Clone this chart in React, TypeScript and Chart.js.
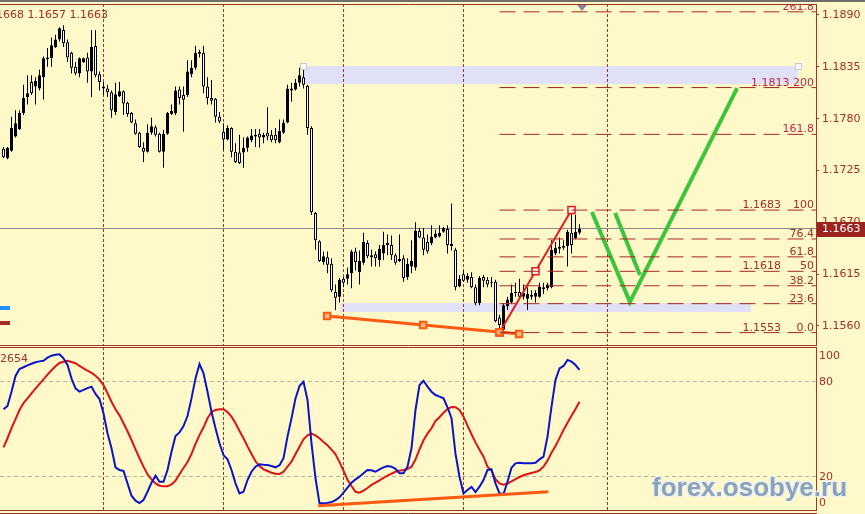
import React, { useEffect, useRef } from 'react';
import { Chart, registerables } from 'chart.js';

Chart.register(...registerables);

// ---------- DATA ----------
const OPEN = [
  1.1748, 1.1738, 1.1746, 1.1761, 1.1769, 1.1786, 1.1803, 1.1819, 1.1814, 1.1812,
  1.1824, 1.1843, 1.1844, 1.1856, 1.1864, 1.1874, 1.1861, 1.185, 1.1835, 1.1828,
  1.184, 1.1845, 1.183, 1.1857, 1.1827, 1.1812, 1.1812, 1.1808, 1.1787, 1.1804,
  1.1809, 1.1797, 1.1786, 1.1775, 1.1765, 1.1749, 1.1745, 1.1765, 1.1771, 1.1764,
  1.1745, 1.1764, 1.1785, 1.1786, 1.1811, 1.1805, 1.1805, 1.1827, 1.1834, 1.1851,
  1.185, 1.1814, 1.1802, 1.1801, 1.1782, 1.1766, 1.1758, 1.177, 1.1745, 1.1744,
  1.1744, 1.1749, 1.1757, 1.1761, 1.1764, 1.176, 1.1765, 1.1763, 1.1763, 1.1755,
  1.1765, 1.1776, 1.181, 1.1811, 1.1818, 1.1824, 1.1815, 1.177, 1.168, 1.165,
  1.1628, 1.1633, 1.1626, 1.1596, 1.1591, 1.161, 1.161, 1.1616, 1.1639, 1.1617,
  1.1627, 1.1648, 1.1633, 1.1636, 1.163, 1.1637, 1.1646, 1.1646, 1.1635, 1.1629,
  1.1632, 1.1612, 1.1623, 1.1622, 1.1661, 1.1654, 1.1649, 1.1648, 1.1654, 1.1655,
  1.166, 1.1663, 1.1647, 1.1641, 1.1602, 1.1615, 1.1609, 1.1612, 1.1601, 1.1584,
  1.1612, 1.1609, 1.1606, 1.1607, 1.1569, 1.1556, 1.1581, 1.1585, 1.1595, 1.1596,
  1.1591, 1.1589, 1.1591, 1.1591, 1.1591, 1.1599, 1.16, 1.1601, 1.1637, 1.1642,
  1.1643, 1.1645, 1.1659, 1.1653, 1.1659,
];
const HIGH = [
  1.175, 1.175, 1.1782, 1.1789, 1.1789, 1.1816, 1.1826, 1.1826, 1.1824, 1.1832,
  1.1846, 1.1855, 1.1866, 1.1869, 1.1877, 1.1879, 1.1864, 1.1851, 1.184, 1.1845,
  1.1845, 1.185, 1.1874, 1.1874, 1.183, 1.1819, 1.1816, 1.181, 1.1818, 1.1819,
  1.181, 1.1798, 1.1787, 1.1779, 1.1766, 1.1755, 1.1774, 1.1781, 1.1773, 1.1765,
  1.1768, 1.1787, 1.1795, 1.1814, 1.1814, 1.1814, 1.1842, 1.1842, 1.1857, 1.1853,
  1.1857, 1.1824, 1.1821, 1.1802, 1.1787, 1.1775, 1.1773, 1.1771, 1.1754, 1.1763,
  1.176, 1.1761, 1.1769, 1.1769, 1.1769, 1.1765, 1.1792, 1.1768, 1.177, 1.1779,
  1.1779, 1.1816, 1.1818, 1.1822, 1.1834, 1.1836, 1.1816, 1.1772, 1.1681, 1.1651,
  1.1639, 1.1639, 1.1632, 1.1604, 1.1611, 1.1612, 1.1622, 1.1641, 1.1643, 1.164,
  1.1659, 1.1651, 1.1641, 1.1639, 1.1646, 1.166, 1.1657, 1.1656, 1.1637, 1.1657,
  1.1635, 1.1632, 1.1651, 1.167, 1.1664, 1.1664, 1.1657, 1.1667, 1.1662, 1.1667,
  1.1665, 1.1667, 1.169, 1.1643, 1.1614, 1.1619, 1.1616, 1.1617, 1.1604, 1.1613,
  1.1614, 1.1612, 1.1612, 1.1609, 1.1572, 1.1584, 1.1591, 1.1604, 1.1606, 1.161,
  1.1604, 1.1601, 1.1598, 1.1598, 1.1606, 1.1606, 1.1606, 1.1651, 1.1649, 1.1654,
  1.1651, 1.1662, 1.1683, 1.1678, 1.1668,
];
const LOW = [
  1.1738, 1.1737, 1.1745, 1.176, 1.1768, 1.1784, 1.1795, 1.1805, 1.1795, 1.181,
  1.18, 1.1835, 1.1835, 1.1855, 1.1862, 1.1856, 1.184, 1.1828, 1.1826, 1.1824,
  1.1839, 1.1818, 1.1803, 1.1824, 1.181, 1.1805, 1.1803, 1.1781, 1.1784, 1.1803,
  1.1784, 1.1782, 1.1775, 1.1763, 1.1749, 1.1734, 1.1744, 1.1763, 1.1761, 1.1744,
  1.1728, 1.1763, 1.1784, 1.1784, 1.1795, 1.1766, 1.1803, 1.1824, 1.1832, 1.1845,
  1.1807, 1.1795, 1.1795, 1.1776, 1.1775, 1.1747, 1.1757, 1.1739, 1.1733, 1.1732,
  1.1728, 1.1745, 1.1755, 1.175, 1.1749, 1.1754, 1.1757, 1.1755, 1.1754, 1.1754,
  1.1764, 1.1775, 1.1798, 1.181, 1.1814, 1.1812, 1.1763, 1.1678, 1.1641, 1.1628,
  1.1625, 1.1616, 1.1596, 1.1577, 1.1585, 1.1601, 1.1604, 1.16, 1.1619, 1.1604,
  1.1625, 1.1632, 1.1623, 1.1623, 1.1623, 1.163, 1.1635, 1.163, 1.1625, 1.1628,
  1.1607, 1.1609, 1.1616, 1.1619, 1.1653, 1.1635, 1.1637, 1.1646, 1.1653, 1.1654,
  1.1659, 1.1637, 1.164, 1.1598, 1.1601, 1.1607, 1.1606, 1.16, 1.1582, 1.1582,
  1.1601, 1.1601, 1.1601, 1.1564, 1.1553, 1.1555, 1.1577, 1.1584, 1.1591, 1.1588,
  1.1588, 1.1577, 1.1588, 1.1585, 1.159, 1.1594, 1.1598, 1.16, 1.1635, 1.1637,
  1.1641, 1.1623, 1.1637, 1.1652, 1.1657,
];
const CLOSE = [
  1.1739, 1.1749, 1.177, 1.1775, 1.1786, 1.1802, 1.1807, 1.1807, 1.182, 1.1826,
  1.1844, 1.1845, 1.1858, 1.1864, 1.1876, 1.186, 1.1845, 1.1834, 1.1828, 1.1844,
  1.1844, 1.183, 1.1856, 1.1826, 1.1819, 1.1814, 1.1808, 1.1789, 1.1806, 1.1809,
  1.1796, 1.1785, 1.1776, 1.1764, 1.175, 1.1745, 1.1765, 1.1772, 1.1763, 1.1745,
  1.1764, 1.1786, 1.1788, 1.181, 1.1802, 1.18, 1.183, 1.1834, 1.185, 1.1849,
  1.1814, 1.1802, 1.1799, 1.1782, 1.1777, 1.1758, 1.177, 1.1745, 1.1734, 1.1733,
  1.1749, 1.176, 1.1762, 1.1763, 1.176, 1.1763, 1.1761, 1.1757, 1.1757, 1.1767,
  1.1776, 1.1812, 1.1812, 1.1818, 1.1826, 1.1816, 1.177, 1.1681, 1.1651, 1.1629,
  1.1634, 1.1625, 1.1598, 1.159, 1.1609, 1.1606, 1.1615, 1.1639, 1.1628, 1.1629,
  1.1649, 1.1634, 1.1635, 1.1632, 1.1642, 1.1646, 1.1648, 1.1635, 1.1627, 1.1631,
  1.1611, 1.1626, 1.1629, 1.1661, 1.1654, 1.1641, 1.1639, 1.1655, 1.1658, 1.1659,
  1.1664, 1.1646, 1.1645, 1.1601, 1.161, 1.1608, 1.1613, 1.1601, 1.1584, 1.1611,
  1.1608, 1.1604, 1.1607, 1.1565, 1.1561, 1.1582, 1.1588, 1.1595, 1.1596, 1.1591,
  1.1595, 1.1594, 1.1593, 1.1595, 1.1602, 1.1601, 1.1604, 1.1641, 1.1643, 1.1644,
  1.1645, 1.166, 1.1646, 1.166, 1.1663,
];
const STOCH_K = [
  62.6, 64.7, 73.7, 83.6, 88.0, 89.1, 90.3, 91.3, 92.2, 92.8,
  93.2, 95.1, 96.4, 97.0, 97.3, 94.7, 90.5, 82.1, 75.8, 73.7,
  74.8, 76.0, 76.9, 72.3, 69.1, 60.1, 47.5, 38.1, 26.1, 24.4,
  23.8, 16.0, 8.2, 5.1, 3.6, 5.5, 10.7, 16.4, 20.8, 17.0,
  17.0, 24.4, 35.9, 45.8, 48.1, 52.1, 58.4, 69.5, 82.1, 91.1,
  85.3, 73.7, 61.1, 50.7, 41.2, 33.8, 31.1, 24.4, 16.0, 9.7,
  10.7, 18.1, 23.3, 26.5, 28.0, 27.7, 27.5, 26.9, 26.1, 27.4,
  31.8, 45.4, 57.0, 69.5, 77.3, 80.0, 68.5, 41.2, 19.2, 3.4,
  3.4, 3.6, 4.2, 5.5, 7.2, 10.1, 13.3, 16.4, 18.5, 20.2,
  22.3, 24.4, 24.2, 23.3, 24.8, 26.1, 26.9, 26.5, 25.2, 22.3,
  22.3, 26.5, 38.1, 62.2, 77.9, 80.6, 76.9, 73.7, 71.6, 70.6,
  69.5, 63.9, 57.0, 34.5, 20.2, 9.7, 11.8, 13.7, 10.5, 13.9,
  18.1, 24.4, 24.8, 16.0, 9.7, 9.3, 17.0, 25.8, 28.6, 29.0,
  28.6, 28.6, 28.6, 29.0, 31.1, 32.8, 45.4, 64.3, 81.1, 88.4,
  89.9, 93.7, 92.6, 90.5, 87.4,
];
const STOCH_D = [
  38.7, 44.4, 50.7, 56.5, 62.2, 66.6, 69.5, 72.7, 75.6, 78.6,
  81.5, 84.4, 87.2, 89.7, 91.8, 92.6, 93.2, 92.4, 91.6, 89.9,
  88.4, 86.9, 85.5, 83.8, 81.3, 77.9, 72.7, 67.4, 62.6, 58.8,
  53.8, 48.8, 43.3, 37.4, 31.8, 26.5, 21.7, 18.5, 16.0, 14.5,
  14.1, 14.1, 15.4, 17.7, 21.7, 25.7, 29.4, 34.5, 40.8, 46.4,
  51.3, 57.0, 60.9, 62.2, 62.6, 62.6, 60.9, 58.0, 53.8, 49.0,
  44.4, 39.3, 34.5, 29.9, 26.9, 24.8, 23.8, 22.7, 22.1, 21.9,
  23.3, 26.5, 29.6, 34.5, 39.1, 43.7, 46.2, 47.3, 46.2, 44.4,
  42.0, 40.0, 37.2, 34.3, 29.4, 24.0, 18.3, 14.3, 10.7, 10.1,
  11.4, 13.1, 15.0, 16.4, 17.9, 19.4, 20.8, 22.1, 23.3, 24.0,
  24.4, 25.0, 26.5, 31.1, 37.4, 43.1, 47.3, 50.7, 55.3, 57.6,
  60.5, 62.8, 64.1, 63.9, 62.2, 58.0, 52.3, 46.9, 41.8, 37.2,
  32.8, 26.5, 24.0, 18.7, 16.0, 15.1, 15.8, 17.3, 18.7, 20.0,
  21.1, 21.9, 22.5, 23.1, 24.2, 26.5, 30.3, 35.3, 39.5, 44.5,
  49.6, 54.2, 58.6, 62.8, 67.4,
];
const PRICE_TICKS = [1.189, 1.1835, 1.178, 1.1725, 1.167, 1.1615, 1.156];
const STOCH_TICKS = [100, 80, 20, 0];
const STOCH_GRID = [80, 20];
const GRID_BARS = [25, 55, 85, 115, 151];
const FIB_FROM = { x: 124, y: 1.1553 };
const FIB_TO = { x: 142, y: 1.1683 };
const FIB_MID = { x: 133, y: 1.1618 };
const FIB_LEVELS = [0, 23.6, 38.2, 50, 61.8, 76.4, 100, 161.8, 200, 261.8];
const FIB_PRICE_COLUMN = [0, 50, 100];
const FIB_PRICE_INLINE = [200];
const SUPPORT_TREND = [
  { x: 80.9, y: 1.15706 }, { x: 104.9, y: 1.1561 }, { x: 123.9, y: 1.15535 }, { x: 128.9, y: 1.15515 },
];
const FORECAST_MAIN = [{ x: 147.1, y: 1.1681 }, { x: 156.6, y: 1.15854 }, { x: 183.4, y: 1.18125 }];
const FORECAST_ALT = [{ x: 152.9, y: 1.168 }, { x: 159.1, y: 1.1614 }];
const ZONES = [
  { from: 74.9, to: 198.7, top: 1.18359, bottom: 1.18168, handles: true },
  { from: 84.2, to: 186.9, top: 1.15844, bottom: 1.15748, handles: false },
];
const STOCH_TREND = [{ x: 78.7, y: 1.9 }, { x: 136.2, y: 10.7 }];
const STOCH_CAPTION = '2654';
const SHIFT_BAR = 144.6;
const WATERMARK = 'forex.osobye.ru';

// ---------- STYLE / LAYOUT ----------
const BG = '#FFF9C9';
const AXIS = '#9C3628';
const TXT = '#A0302A';
const FIB_COLOR = '#A82828';
const FIB_TXT_HI = '#C0284A';
const FONT = '"DejaVu Sans", Verdana, sans-serif';
const X_MIN = -0.875;
const X_MAX = 203.125;
const P_MAX = 1.190166;
const P_MIN = 1.153982;
const S_MAX = 101.85;
const S_MIN = -0.78;

const fibPrice = (lvl: number) => FIB_FROM.y + (FIB_TO.y - FIB_FROM.y) * lvl / 100;
const fibPct = (lvl: number) => (lvl === 0 ? '0.0' : String(lvl));

const xScale = { type: 'linear', min: X_MIN, max: X_MAX, offset: false, display: false };

const pricePlugin = {
  id: 'priceDecor',
  beforeDatasetsDraw(chart: any) {
    const { ctx, chartArea: a, scales } = chart;
    const x = scales.x, y = scales.y;
    ctx.save();
    ctx.beginPath();
    ctx.rect(a.left, a.top, a.right - a.left, a.bottom - a.top);
    ctx.clip();
    ctx.fillStyle = '#E0E1F6';
    for (const z of ZONES) {
      const x0 = x.getPixelForValue(z.from), x1 = x.getPixelForValue(z.to);
      const y0 = y.getPixelForValue(z.top), y1 = y.getPixelForValue(z.bottom);
      ctx.fillRect(Math.round(x0), Math.round(y0), Math.round(x1 - x0), Math.round(y1 - y0));
    }
    ctx.strokeStyle = AXIS;
    ctx.lineWidth = 1;
    ctx.setLineDash([3, 2]);
    for (const b of GRID_BARS) {
      const px = Math.floor(x.getPixelForValue(b)) + 0.5;
      ctx.beginPath();
      ctx.moveTo(px, a.top);
      ctx.lineTo(px, a.bottom);
      ctx.stroke();
    }
    ctx.setLineDash([]);
    const cy = Math.floor(y.getPixelForValue(CLOSE[CLOSE.length - 1])) + 0.5;
    ctx.strokeStyle = '#8A8A8A';
    ctx.beginPath();
    ctx.moveTo(a.left, cy);
    ctx.lineTo(a.right, cy);
    ctx.stroke();
    ctx.restore();
  },
  afterDatasetsDraw(chart: any) {
    const { ctx, chartArea: a, scales } = chart;
    const x = scales.x, y = scales.y;
    ctx.save();
    ctx.beginPath();
    ctx.rect(a.left, a.top, a.right - a.left, a.bottom - a.top);
    ctx.clip();
    ctx.font = '11px ' + FONT;
    ctx.textBaseline = 'alphabetic';
    ctx.textAlign = 'right';
    for (const lvl of FIB_LEVELS) {
      const py = y.getPixelForValue(fibPrice(lvl)) - 2;
      ctx.fillStyle = lvl > 100 ? FIB_TXT_HI : TXT;
      if (FIB_PRICE_INLINE.includes(lvl)) {
        ctx.fillText(fibPrice(lvl).toFixed(4) + ' ' + fibPct(lvl), a.right - 2, py);
      } else {
        ctx.fillText(fibPct(lvl), a.right - 2, py);
        if (FIB_PRICE_COLUMN.includes(lvl)) ctx.fillText(fibPrice(lvl).toFixed(4), a.right - 35, py);
      }
    }
    for (const z of ZONES) {
      if (!z.handles) continue;
      const yy = Math.round(y.getPixelForValue(z.top));
      for (const v of [z.from, z.to]) {
        const xx = Math.round(x.getPixelForValue(v));
        ctx.fillStyle = '#FFFFFF';
        ctx.fillRect(xx - 2, yy - 2, 5, 5);
        ctx.strokeStyle = '#C8C8DC';
        ctx.strokeRect(xx - 2.5, yy - 2.5, 6, 6);
      }
    }
    const n = CLOSE.length - 1;
    ctx.fillStyle = TXT;
    ctx.textAlign = 'right';
    ctx.fillText([OPEN[n], HIGH[n], LOW[n], CLOSE[n]].map((v) => v.toFixed(4)).join(' '), 108, 18);
    ctx.fillStyle = '#1E90FF';
    ctx.fillRect(0, 306, 10, 4);
    ctx.fillStyle = '#A52A2A';
    ctx.fillRect(0, 321, 10, 4);
    ctx.restore();
  },
  afterDraw(chart: any) {
    const { ctx, chartArea: a, scales, width } = chart;
    const x = scales.x, y = scales.y;
    ctx.save();
    ctx.fillStyle = '#6E6E6E';
    ctx.fillRect(0, 0, width, 2);
    ctx.strokeStyle = AXIS;
    ctx.lineWidth = 1;
    ctx.beginPath();
    ctx.moveTo(0, a.top + 0.5);
    ctx.lineTo(a.right + 1, a.top + 0.5);
    ctx.moveTo(0, a.bottom + 0.5);
    ctx.lineTo(a.right + 1, a.bottom + 0.5);
    ctx.stroke();
    const sx = Math.round(x.getPixelForValue(SHIFT_BAR));
    ctx.fillStyle = '#7F8A98';
    ctx.beginPath();
    ctx.moveTo(sx - 5, a.top + 1);
    ctx.lineTo(sx + 5, a.top + 1);
    ctx.lineTo(sx, a.top + 7);
    ctx.closePath();
    ctx.fill();
    const n = CLOSE.length - 1;
    const py = y.getPixelForValue(CLOSE[n]);
    ctx.fillStyle = '#9B2420';
    ctx.fillRect(a.right + 1, Math.round(py) - 7, width - a.right - 1, 15);
    ctx.fillStyle = '#FFFFFF';
    ctx.font = '11px ' + FONT;
    ctx.textAlign = 'left';
    ctx.textBaseline = 'middle';
    ctx.fillText(CLOSE[n].toFixed(4), a.right + 6, Math.round(py) + 0.5);
    ctx.restore();
  },
};

const stochPlugin = {
  id: 'stochDecor',
  beforeDatasetsDraw(chart: any) {
    const { ctx, chartArea: a, scales } = chart;
    const x = scales.x, y = scales.y;
    ctx.save();
    ctx.lineWidth = 1;
    ctx.strokeStyle = '#B9B2A2';
    ctx.setLineDash([4, 3]);
    for (const v of STOCH_GRID) {
      const py = Math.floor(y.getPixelForValue(v)) + 0.5;
      ctx.beginPath();
      ctx.moveTo(a.left, py);
      ctx.lineTo(a.right, py);
      ctx.stroke();
    }
    ctx.strokeStyle = AXIS;
    ctx.setLineDash([3, 2]);
    for (const b of GRID_BARS) {
      const px = Math.floor(x.getPixelForValue(b)) + 0.5;
      ctx.beginPath();
      ctx.moveTo(px, a.top);
      ctx.lineTo(px, a.bottom);
      ctx.stroke();
    }
    ctx.restore();
  },
  afterDraw(chart: any) {
    const { ctx, chartArea: a, scales, height } = chart;
    const y = scales.y;
    ctx.save();
    ctx.strokeStyle = AXIS;
    ctx.lineWidth = 1;
    ctx.beginPath();
    ctx.moveTo(0, a.top + 0.5);
    ctx.lineTo(a.right + 1, a.top + 0.5);
    ctx.moveTo(0, a.bottom + 0.5);
    ctx.lineTo(a.right + 1, a.bottom + 0.5);
    ctx.moveTo(0, height - 0.5);
    ctx.lineTo(a.right + 1, height - 0.5);
    ctx.stroke();
    ctx.font = '11px ' + FONT;
    ctx.fillStyle = TXT;
    ctx.textAlign = 'left';
    ctx.textBaseline = 'middle';
    for (const v of STOCH_TICKS) {
      const py = Math.min(Math.max(y.getPixelForValue(v), a.top + 9.5), a.bottom - 7);
      ctx.fillText(String(v), a.right + 3, py);
    }
    ctx.textBaseline = 'alphabetic';
    ctx.fillText(STOCH_CAPTION, 0, a.top + 15);
    ctx.font = 'bold 26px "Liberation Sans", Arial, sans-serif';
    ctx.textAlign = 'left';
    ctx.lineJoin = 'round';
    ctx.lineWidth = 3;
    ctx.strokeStyle = 'rgba(236,240,244,0.9)';
    ctx.strokeText(WATERMARK, 652, a.top + 149);
    ctx.fillStyle = '#8AA3BA';
    ctx.fillText(WATERMARK, 652, a.top + 149);
    ctx.restore();
  },
};

function priceConfig(): any {
  const bodies = CLOSE.map((c, i) => ({ x: i, y: [OPEN[i], c] }));
  const wicks = HIGH.map((h, i) => ({ x: i, y: [LOW[i], h] }));
  const fibSets = FIB_LEVELS.map((lvl) => ({
    type: 'line',
    data: [{ x: FIB_FROM.x, y: fibPrice(lvl) }, { x: X_MAX, y: fibPrice(lvl) }],
    borderColor: FIB_COLOR,
    borderWidth: 1,
    borderDash: [16, 8],
    pointRadius: 0,
    order: 0,
  }));
  return {
    type: 'bar',
    data: {
      datasets: [
        {
          type: 'bar',
          data: bodies,
          backgroundColor: CLOSE.map((c, i) => (c > OPEN[i] ? '#000000' : '#FFFFFF')),
          borderColor: '#000000',
          borderWidth: 1,
          borderSkipped: false,
          inflateAmount: 0,
          barThickness: 3,
          minBarLength: 1,
          grouped: false,
          order: 1,
        },
        {
          type: 'bar',
          data: wicks,
          backgroundColor: '#000000',
          borderWidth: 0,
          inflateAmount: 0,
          barThickness: 1,
          grouped: false,
          order: 2,
        },
        ...fibSets,
        {
          type: 'line',
          data: SUPPORT_TREND,
          borderColor: '#FF5A12',
          borderWidth: 3,
          pointStyle: 'rect',
          pointRadius: 4.5,
          pointBackgroundColor: '#FFB880',
          pointBorderColor: '#FF5A12',
          pointBorderWidth: 2,
          order: 0,
        },
        {
          type: 'line',
          data: [FIB_FROM, FIB_MID, FIB_TO],
          borderColor: '#E41C1C',
          borderWidth: 2,
          pointStyle: 'rect',
          pointRadius: 5,
          pointBackgroundColor: '#FFF0E4',
          pointBorderColor: '#E41C1C',
          pointBorderWidth: 1.5,
          order: 0,
        },
        { type: 'line', data: FORECAST_MAIN, borderColor: '#3CC43C', borderWidth: 4, pointRadius: 0, order: 0 },
        { type: 'line', data: FORECAST_ALT, borderColor: '#3CC43C', borderWidth: 4, pointRadius: 0, order: 0 },
      ],
    },
    options: {
      animation: false,
      responsive: false,
      maintainAspectRatio: false,
      events: [],
      layout: { autoPadding: false, padding: { left: 0, right: 0, top: 4, bottom: 2 } },
      plugins: { legend: { display: false }, tooltip: { enabled: false } },
      scales: {
        x: xScale,
        y: {
          type: 'linear',
          position: 'right',
          min: P_MIN,
          max: P_MAX,
          afterBuildTicks: (s: any) => {
            s.ticks = PRICE_TICKS.map((v) => ({ value: v }));
          },
          afterFit: (s: any) => {
            s.width = 49;
            s.paddingTop = 0;
            s.paddingBottom = 0;
          },
          ticks: {
            autoSkip: false,
            color: TXT,
            padding: 3,
            font: { family: FONT, size: 11 },
            callback: (v: any) => Number(v).toFixed(4),
          },
          grid: { drawOnChartArea: false, drawTicks: true, tickLength: 3, color: AXIS },
          border: { display: true, color: AXIS, width: 1 },
        },
      },
    },
    plugins: [pricePlugin],
  };
}

function stochConfig(): any {
  return {
    type: 'line',
    data: {
      datasets: [
        { data: STOCH_TREND, borderColor: '#FF5A12', borderWidth: 3, pointRadius: 0, order: 0 },
        {
          data: STOCH_K.map((v, i) => ({ x: i, y: v })),
          borderColor: '#0A14C8',
          borderWidth: 2,
          pointRadius: 0,
          order: 1,
        },
        {
          data: STOCH_D.map((v, i) => ({ x: i, y: v })),
          borderColor: '#DC1414',
          borderWidth: 2,
          pointRadius: 0,
          order: 2,
        },
      ],
    },
    options: {
      animation: false,
      responsive: false,
      maintainAspectRatio: false,
      events: [],
      layout: { autoPadding: false, padding: { left: 0, right: 0, top: 0, bottom: 4 } },
      plugins: { legend: { display: false }, tooltip: { enabled: false } },
      scales: {
        x: xScale,
        y: {
          type: 'linear',
          position: 'right',
          min: S_MIN,
          max: S_MAX,
          afterFit: (s: any) => {
            s.width = 49;
            s.paddingTop = 0;
            s.paddingBottom = 0;
          },
          ticks: { display: false },
          grid: { drawOnChartArea: false, drawTicks: false },
          border: { display: true, color: AXIS, width: 1 },
        },
      },
    },
    plugins: [stochPlugin],
  };
}

export default function App() {
  const priceRef = useRef<HTMLCanvasElement>(null);
  const stochRef = useRef<HTMLCanvasElement>(null);
  useEffect(() => {
    document.body.style.margin = '0';
    document.body.style.background = BG;
    Chart.defaults.font.family = FONT;
    const c1 = new Chart(priceRef.current as HTMLCanvasElement, priceConfig());
    const c2 = new Chart(stochRef.current as HTMLCanvasElement, stochConfig());
    return () => {
      c1.destroy();
      c2.destroy();
    };
  }, []);
  return (
    <div style={{ position: 'absolute', left: 0, top: 0, width: 865, height: 514, background: BG, overflow: 'hidden' }}>
      <canvas ref={priceRef} width={865} height={347} style={{ position: 'absolute', left: 0, top: 0 }} />
      <canvas ref={stochRef} width={865} height={167} style={{ position: 'absolute', left: 0, top: 347 }} />
    </div>
  );
}
